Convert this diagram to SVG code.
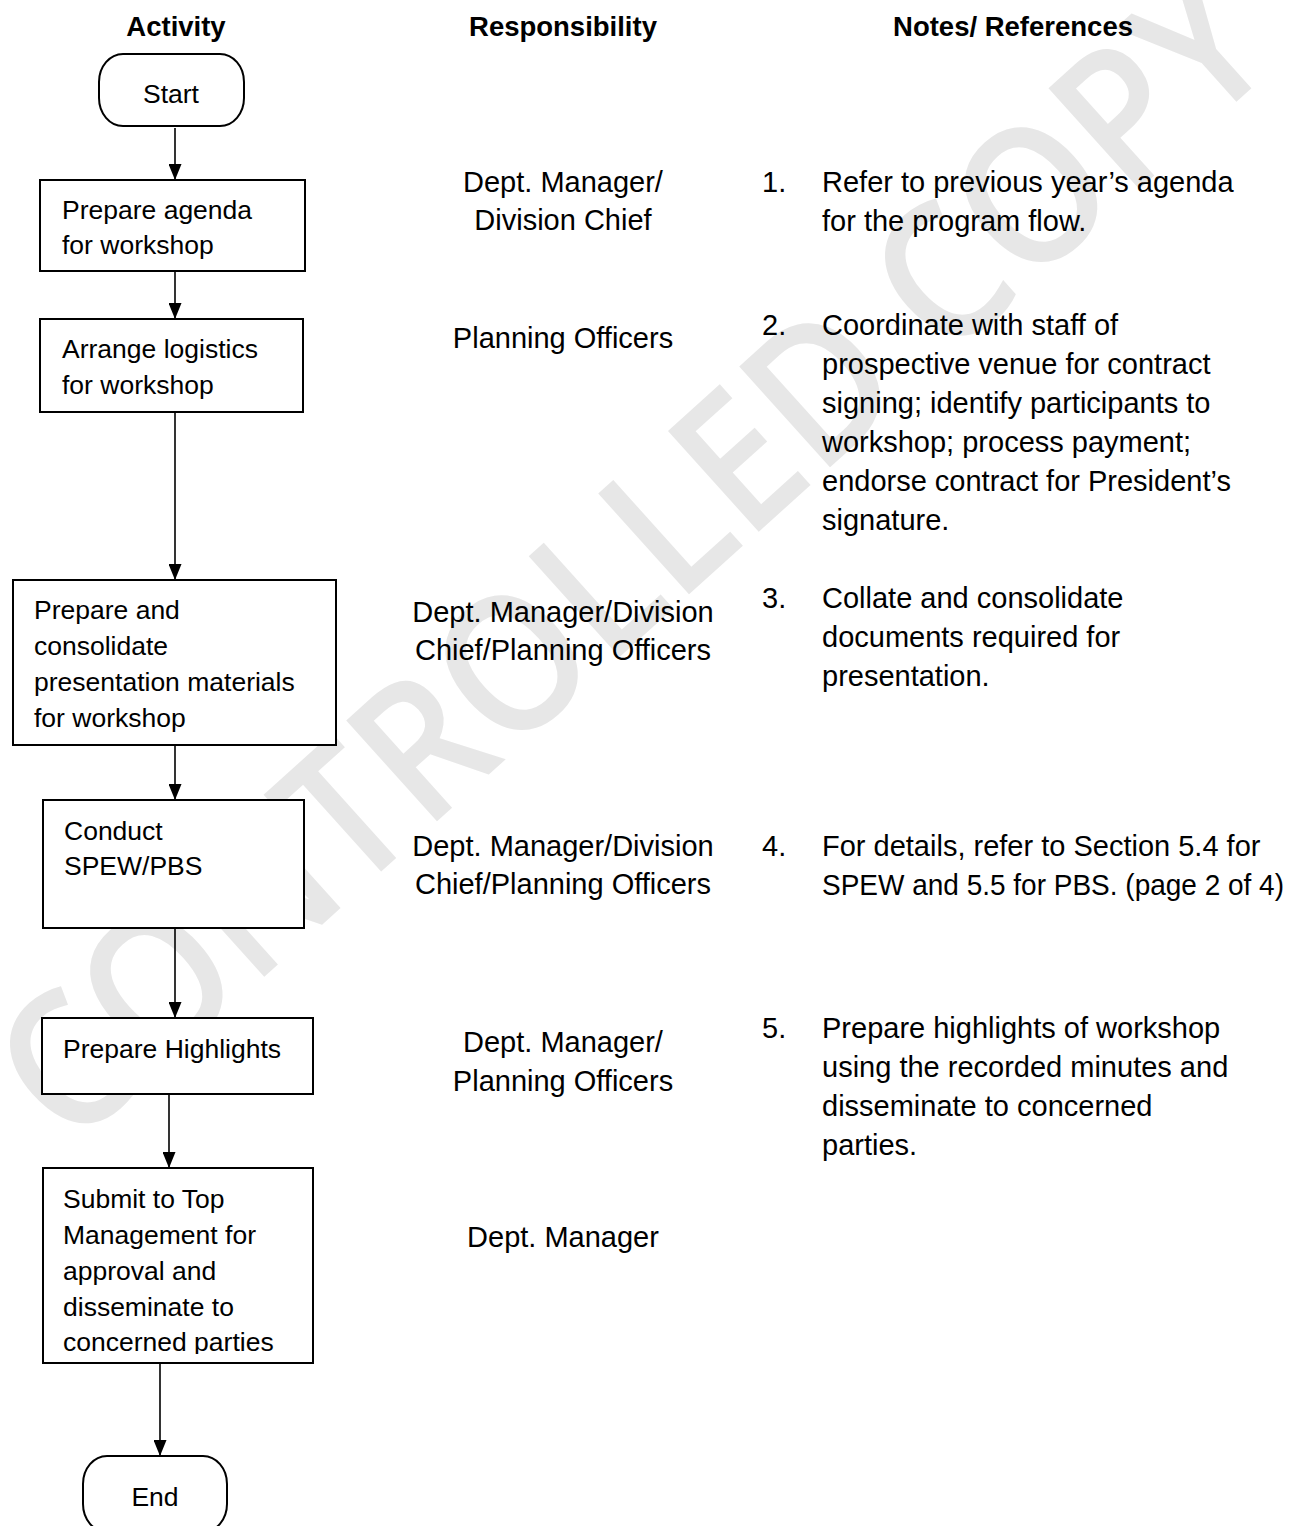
<svg xmlns="http://www.w3.org/2000/svg" width="1293" height="1526" viewBox="0 0 1293 1526">
  <style>
    .hdr { font-family: "Liberation Sans", Arial, sans-serif; font-weight: bold; font-size: 27.5px; fill: #000; text-anchor: middle; }
    .box { fill: #fff; stroke: #000; stroke-width: 2; }
    .term { fill: #fff; stroke: #000; stroke-width: 2; }
    .lbl { font-family: "Liberation Sans", Arial, sans-serif; font-size: 26.5px; fill: #000; }
    .ctr { text-anchor: middle; }
    .resp { font-family: "Liberation Sans", Arial, sans-serif; font-size: 29px; fill: #000; text-anchor: middle; }
    .note { font-family: "Liberation Sans", Arial, sans-serif; font-size: 29px; fill: #000; }
    .conn { stroke: #000; stroke-width: 1.6; fill: none; marker-end: url(#arrow); }
    .wm { font-family: "Open Sans", "Liberation Sans", sans-serif; font-weight: 600; font-size: 190px; fill: #e7e7e7; text-anchor: middle; }
  </style>
  <defs>
    <marker id="arrow" markerWidth="16" markerHeight="13" refX="16" refY="6.5" orient="auto" markerUnits="userSpaceOnUse">
      <path d="M0,0 L16,6.5 L0,13 Z" fill="#000"/>
    </marker>
    <clipPath id="clipSubmit">
      <rect x="43" y="1168" width="270" height="186"/>
    </clipPath>
  </defs>

  <rect width="1293" height="1526" fill="#fff"/>

  <!-- watermark -->
  <g id="watermark">
    <text class="wm" transform="translate(676,606) rotate(-42)" textLength="1630" lengthAdjust="spacingAndGlyphs">CONTROLLED COPY</text>
  </g>

  <!-- column headings -->
  <g id="headings">
    <text class="hdr" x="176" y="36">Activity</text>
    <text class="hdr" x="563" y="36">Responsibility</text>
    <text class="hdr" x="1013" y="36">Notes/ References</text>
  </g>

  <!-- connectors -->
  <g id="connectors">
    <line class="conn" x1="175" y1="128" x2="175" y2="180"/>
    <line class="conn" x1="175" y1="272" x2="175" y2="319"/>
    <line class="conn" x1="175" y1="413" x2="175" y2="580"/>
    <line class="conn" x1="175" y1="746" x2="175" y2="800"/>
    <line class="conn" x1="175" y1="929" x2="175" y2="1018"/>
    <line class="conn" x1="169" y1="1095" x2="169" y2="1168"/>
    <line class="conn" x1="160" y1="1364" x2="160" y2="1456"/>
  </g>

  <!-- activity nodes -->
  <g id="start">
    <rect class="term" x="99" y="54" width="145" height="72" rx="24" ry="28"/>
    <text class="lbl ctr" x="171" y="103">Start</text>
  </g>
  <g id="prepare-agenda">
    <rect class="box" x="40" y="180" width="265" height="91"/>
    <text class="lbl" x="62" y="219">Prepare agenda</text>
    <text class="lbl" x="62" y="254">for workshop</text>
  </g>
  <g id="arrange-logistics">
    <rect class="box" x="40" y="319" width="263" height="93"/>
    <text class="lbl" x="62" y="358">Arrange logistics</text>
    <text class="lbl" x="62" y="394">for workshop</text>
  </g>
  <g id="prepare-materials">
    <rect class="box" x="13" y="580" width="323" height="165"/>
    <text class="lbl" x="34" y="619">Prepare and</text>
    <text class="lbl" x="34" y="655">consolidate</text>
    <text class="lbl" x="34" y="691">presentation materials</text>
    <text class="lbl" x="34" y="727">for workshop</text>
  </g>
  <g id="conduct">
    <rect class="box" x="43" y="800" width="261" height="128"/>
    <text class="lbl" x="64" y="840">Conduct</text>
    <text class="lbl" x="64" y="875">SPEW/PBS</text>
  </g>
  <g id="highlights">
    <rect class="box" x="42" y="1018" width="271" height="76"/>
    <text class="lbl" x="63" y="1058">Prepare Highlights</text>
  </g>
  <g id="submit">
    <rect class="box" x="43" y="1168" width="270" height="195"/>
    <g clip-path="url(#clipSubmit)">
      <text class="lbl" x="63" y="1208">Submit to Top</text>
      <text class="lbl" x="63" y="1244">Management for</text>
      <text class="lbl" x="63" y="1280">approval and</text>
      <text class="lbl" x="63" y="1316">disseminate to</text>
      <text class="lbl" x="63" y="1351">concerned parties</text>
    </g>
  </g>
  <g id="end">
    <rect class="term" x="83" y="1456" width="144" height="76" rx="24" ry="28"/>
    <text class="lbl ctr" x="155" y="1506">End</text>
  </g>

  <!-- responsibility column -->
  <g id="responsibility">
    <text class="resp" x="563" y="192">Dept. Manager/</text>
    <text class="resp" x="563" y="230">Division Chief</text>
    <text class="resp" x="563" y="348">Planning Officers</text>
    <text class="resp" x="563" y="622">Dept. Manager/Division</text>
    <text class="resp" x="563" y="660">Chief/Planning Officers</text>
    <text class="resp" x="563" y="856">Dept. Manager/Division</text>
    <text class="resp" x="563" y="894">Chief/Planning Officers</text>
    <text class="resp" x="563" y="1052">Dept. Manager/</text>
    <text class="resp" x="563" y="1091">Planning Officers</text>
    <text class="resp" x="563" y="1247">Dept. Manager</text>
  </g>

  <!-- notes column -->
  <g id="notes">
    <text class="note" x="762" y="192">1.</text>
    <text class="note" x="822" y="192">Refer to previous year’s agenda</text>
    <text class="note" x="822" y="231">for the program flow.</text>

    <text class="note" x="762" y="335">2.</text>
    <text class="note" x="822" y="335">Coordinate with staff of</text>
    <text class="note" x="822" y="374">prospective venue for contract</text>
    <text class="note" x="822" y="413">signing; identify participants to</text>
    <text class="note" x="822" y="452">workshop; process payment;</text>
    <text class="note" x="822" y="491">endorse contract for President’s</text>
    <text class="note" x="822" y="530">signature.</text>

    <text class="note" x="762" y="608">3.</text>
    <text class="note" x="822" y="608">Collate and consolidate</text>
    <text class="note" x="822" y="647">documents required for</text>
    <text class="note" x="822" y="686">presentation.</text>

    <text class="note" x="762" y="856">4.</text>
    <text class="note" x="822" y="856">For details, refer to Section 5.4 for</text>
    <text class="note" x="822" y="895" textLength="462" lengthAdjust="spacingAndGlyphs">SPEW and 5.5 for PBS. (page 2 of 4)</text>

    <text class="note" x="762" y="1038">5.</text>
    <text class="note" x="822" y="1038">Prepare highlights of workshop</text>
    <text class="note" x="822" y="1077">using the recorded minutes and</text>
    <text class="note" x="822" y="1116">disseminate to concerned</text>
    <text class="note" x="822" y="1155">parties.</text>
  </g>
</svg>
